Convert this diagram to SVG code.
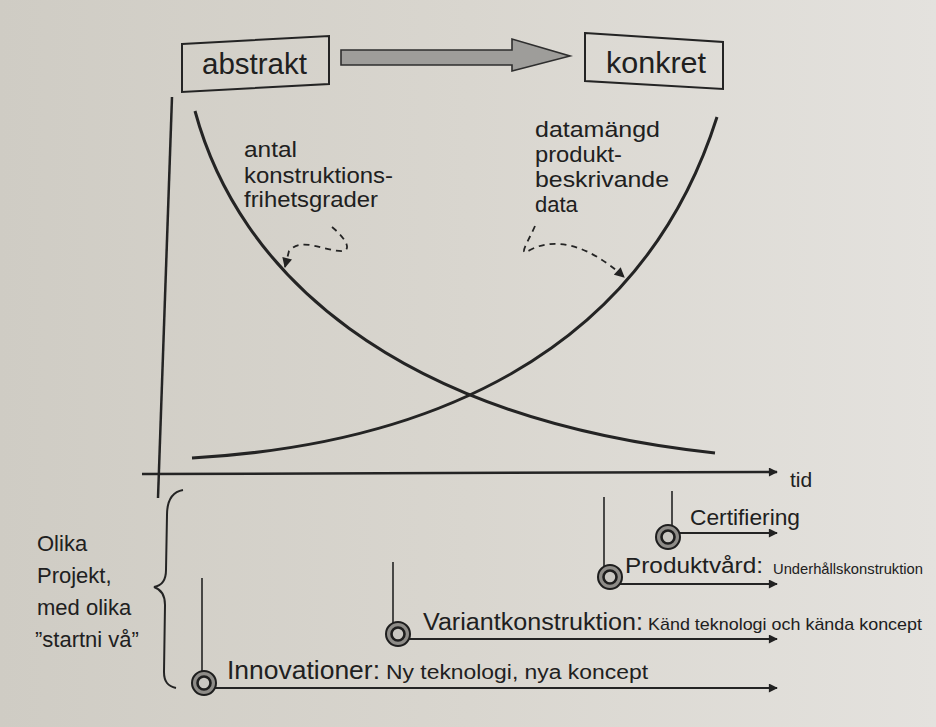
<svg xmlns="http://www.w3.org/2000/svg" width="936" height="727" viewBox="0 0 936 727">
  <defs>
    <linearGradient id="paper" x1="0" y1="0" x2="1" y2="0">
      <stop offset="0" stop-color="#cfccc4"/>
      <stop offset="0.5" stop-color="#d9d6cf"/>
      <stop offset="1" stop-color="#e4e2de"/>
    </linearGradient>
    <marker id="ah" viewBox="0 0 10 10" refX="9" refY="5" markerWidth="11" markerHeight="9" markerUnits="userSpaceOnUse" orient="auto">
      <path d="M0,0 L10,5 L0,10 z" fill="#222"/>
    </marker>
    <marker id="ahs" viewBox="0 0 10 10" refX="9" refY="5" markerWidth="11" markerHeight="10" markerUnits="userSpaceOnUse" orient="auto">
      <path d="M0,0 L10,5 L0,10 z" fill="#222"/>
    </marker>
    <g id="target">
      <circle r="12" fill="#8e8c88" stroke="#1e1e1e" stroke-width="2"/>
      <circle r="6.5" fill="#c9c7c2" stroke="#1e1e1e" stroke-width="2.6"/>
    </g>
  </defs>
  <style>
    text { font-family: "Liberation Sans", Arial, sans-serif; fill: #202020; }
    .box { fill: none; stroke: #242424; stroke-width: 2; }
    .curve { fill: none; stroke: #242424; stroke-width: 3; }
    .axis { fill: none; stroke: #242424; stroke-width: 2.5; }
    .dash { fill: none; stroke: #242424; stroke-width: 1.8; stroke-dasharray: 6 5; }
    .vline { fill: none; stroke: #242424; stroke-width: 1.6; }
    .hline { fill: none; stroke: #242424; stroke-width: 2; }
    .lbl { font-size: 22px; }
    .big { font-size: 22px; }
  </style>

  <rect x="0" y="0" width="936" height="727" fill="url(#paper)"/>

  <!-- top boxes -->
  <g id="abstrakt">
    <polygon class="box" points="182,44 329,36 329,84 182,92"/>
    <text x="202" y="74" font-size="29" textLength="105" lengthAdjust="spacingAndGlyphs">abstrakt</text>
  </g>
  <g id="big-arrow">
    <polygon points="341,50 512,50 512,39 570,56 512,71 512,65 341,65" fill="#9e9d9a" stroke="#2e2e2e" stroke-width="1.6"/>
  </g>
  <g id="konkret">
    <polygon class="box" points="585,33 723,42 723,89 585,81"/>
    <text x="606" y="73" font-size="29" textLength="100" lengthAdjust="spacingAndGlyphs">konkret</text>
  </g>

  <!-- axes -->
  <g id="axes">
    <line class="axis" x1="172" y1="97" x2="158" y2="498"/>
    <line class="axis" x1="142" y1="474" x2="777" y2="472" marker-end="url(#ah)"/>
    <text x="790" y="487" font-size="21">tid</text>
  </g>

  <!-- curves -->
  <g id="curve-frihetsgrader">
    <path class="curve" d="M195,111 C238,270 390,418 715,453"/>
    <text class="lbl" x="244" y="157" textLength="53" lengthAdjust="spacingAndGlyphs">antal</text>
    <text class="lbl" x="244" y="183" textLength="149" lengthAdjust="spacingAndGlyphs">konstruktions-</text>
    <text class="lbl" x="244" y="207" textLength="134" lengthAdjust="spacingAndGlyphs">frihetsgrader</text>
  </g>
  <g id="curve-datamangd">
    <path class="curve" d="M192,458 C420,445 640,360 717,117"/>
    <text class="lbl" x="535" y="137" textLength="125" lengthAdjust="spacingAndGlyphs">datamängd</text>
    <text class="lbl" x="535" y="162" textLength="87" lengthAdjust="spacingAndGlyphs">produkt-</text>
    <text class="lbl" x="535" y="187" textLength="134" lengthAdjust="spacingAndGlyphs">beskrivande</text>
    <text class="lbl" x="535" y="212">data</text>
  </g>

  <!-- connectors -->
  <g id="connectors">
    <path class="dash" d="M332,227 C343,236 352,248 344,251 C325,252 302,236 289,251 L285,267" marker-end="url(#ahs)"/>
    <path class="dash" d="M535,226 C528,242 517,258 530,250 C556,236 590,246 624,277" marker-end="url(#ahs)"/>
  </g>

  <!-- brace and label -->
  <g id="projekt-label">
    <path fill="none" stroke="#242424" stroke-width="2" d="M183,490 C172,492 167,500 167,515 L166,570 C166,582 160,586 154,587 C160,589 165,594 165,605 L164,672 C164,682 168,686 176,688"/>
    <text class="big" x="37" y="551">Olika</text>
    <text class="big" x="37" y="583">Projekt,</text>
    <text class="big" x="37" y="615">med olika</text>
    <text class="big" x="35" y="647">”startni vå”</text>
  </g>

  <!-- projects -->
  <g id="innovationer">
    <line class="vline" x1="202" y1="578" x2="202" y2="680"/>
    <line class="hline" x1="212" y1="688" x2="777" y2="688" marker-end="url(#ah)"/>
    <use href="#target" x="204" y="683"/>
    <text x="227" y="679" font-size="25" textLength="153" lengthAdjust="spacingAndGlyphs">Innovationer:</text>
    <text x="386" y="679" font-size="20" textLength="262" lengthAdjust="spacingAndGlyphs">Ny teknologi, nya koncept</text>
  </g>
  <g id="variantkonstruktion">
    <line class="vline" x1="393" y1="562" x2="393" y2="632"/>
    <line class="hline" x1="406" y1="639" x2="777" y2="639" marker-end="url(#ah)"/>
    <use href="#target" x="398" y="634"/>
    <text x="423" y="630" font-size="23" textLength="220" lengthAdjust="spacingAndGlyphs">Variantkonstruktion:</text>
    <text x="648" y="630" font-size="17" textLength="274" lengthAdjust="spacingAndGlyphs">Känd teknologi och kända koncept</text>
  </g>
  <g id="produktvard">
    <line class="vline" x1="604" y1="497" x2="604" y2="575"/>
    <line class="hline" x1="618" y1="584" x2="777" y2="584" marker-end="url(#ah)"/>
    <use href="#target" x="610" y="577"/>
    <text x="625" y="573" font-size="22" textLength="138" lengthAdjust="spacingAndGlyphs">Produktvård:</text>
    <text x="773" y="574" font-size="15" textLength="150" lengthAdjust="spacingAndGlyphs">Underhållskonstruktion</text>
  </g>
  <g id="certifiering">
    <line class="vline" x1="672" y1="491" x2="672" y2="534"/>
    <line class="hline" x1="678" y1="533" x2="777" y2="533" marker-end="url(#ah)"/>
    <use href="#target" x="668" y="537"/>
    <text x="690" y="525" font-size="22" textLength="110" lengthAdjust="spacingAndGlyphs">Certifiering</text>
  </g>
</svg>
